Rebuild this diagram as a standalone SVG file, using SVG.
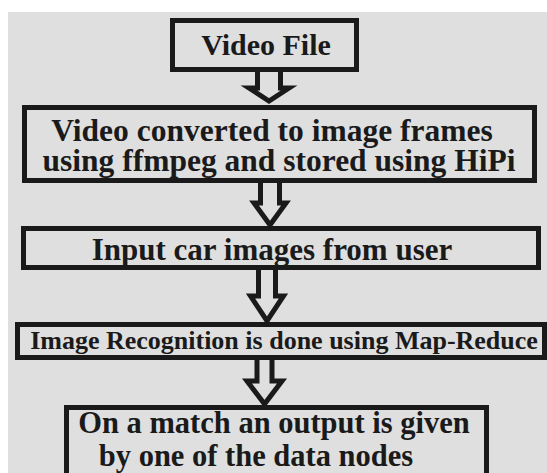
<svg xmlns="http://www.w3.org/2000/svg" width="547" height="473" viewBox="0 0 547 473">
<style>
.box{fill:#dfdfdf;stroke:#1a1a1a;stroke-width:5}
.arr{fill:#dfdfdf;stroke:#1a1a1a;stroke-width:5;stroke-linejoin:miter}
text{font-family:"Liberation Serif","Times New Roman",serif;font-weight:bold;fill:#1a1a1a;text-anchor:middle}
</style>
<rect x="0" y="0" width="547" height="473" fill="#ffffff"/>
<rect x="8" y="12" width="539" height="461" fill="#dfdfdf"/>
<g id="connectors">
<path class="arr" d="M257.5,70 L257.5,88 L249,88 L269,101 L289,88 L280.5,88 L280.5,70"/>
<path class="arr" d="M260.5,181 L260.5,203 L254,203 L270,225 L286,203 L279.5,203 L279.5,181"/>
<path class="arr" d="M258.5,268 L258.5,296 L250.5,296 L267,321 L283.5,296 L275.5,296 L275.5,268"/>
<path class="arr" d="M257,358 L257,381 L247,381 L264.5,404 L282,381 L272,381 L272,358"/>
</g>
<g id="node1">
<rect class="box" x="172.5" y="20.5" width="184" height="49"/>
<text x="266" y="55" font-size="30">Video File</text>
</g>
<g id="node2">
<rect class="box" x="24.5" y="107.5" width="510" height="73"/>
<text font-size="31.5"><tspan x="272" y="141">Video converted to image frames</tspan><tspan x="279" y="171">using ffmpeg and stored using HiPi</tspan></text>
</g>
<g id="node3">
<rect class="box" x="23.5" y="228.5" width="515" height="39"/>
<text x="272" y="260" font-size="31">Input car images from user</text>
</g>
<g id="node4">
<rect class="box" x="17.5" y="324.5" width="527" height="33"/>
<text x="284" y="349" font-size="26">Image Recognition is done using Map-Reduce</text>
</g>
<g id="node5">
<rect class="box" x="66.5" y="407.5" width="420" height="80"/>
<text font-size="30.5"><tspan x="274" y="433">On a match an output is given</tspan><tspan x="256" y="466">by one of the data nodes</tspan></text>
</g>
</svg>
